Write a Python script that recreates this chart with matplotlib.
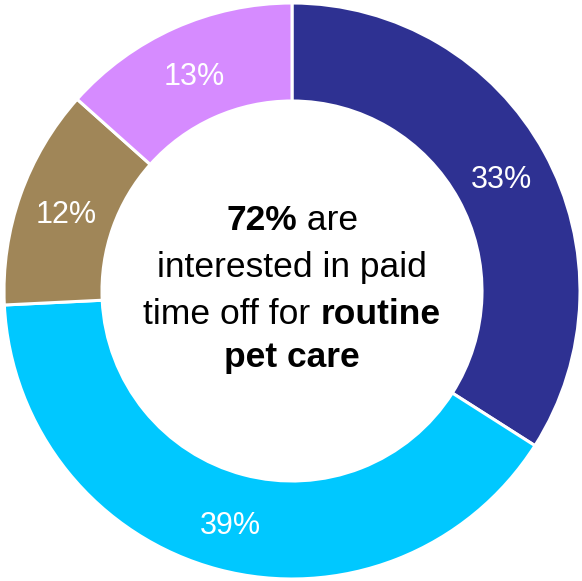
import numpy as np
import matplotlib.pyplot as plt

# Udziały w wykresie pierścieniowym (kolejność zgodnie z ruchem wskazówek zegara od góry)
categories = ["A", "B", "C", "D"]
values = [33, 39, 12, 13]
colors = ["#2E3192", "#00C8FF", "#A08658", "#D68BFF"]

# Tekst w środku: linie złożone z fragmentów (tekst, pogrubienie)
center_lines = [
    [("72%", True), (" are", False)],
    [("interested in paid", False)],
    [("time off for ", False), ("routine", True)],
    [("pet care", True)],
]

plt.rcParams["font.family"] = ["Liberation Sans", "DejaVu Sans"]

W, H = 582, 581
fig = plt.figure(figsize=(W / 100, H / 100), dpi=100)
ax = fig.add_axes([0, 0, 1, 1])

cx, cy = 292, H - 291
r_out = 288
ring = 98

wedges, _ = ax.pie(values, colors=colors, startangle=90, counterclock=False,
                   radius=r_out, center=(cx, cy), frame=True,
                   wedgeprops=dict(width=ring, edgecolor="white", linewidth=2.2))
ax.set_xlim(0, W)
ax.set_ylim(0, H)
ax.set_aspect("equal")
ax.axis("off")

# Etykiety procentowe na środku pierścienia
r_lab = r_out - ring / 2
for w, v in zip(wedges, values):
    ang = np.deg2rad((w.theta1 + w.theta2) / 2)
    ax.text(cx + r_lab * np.cos(ang), cy + r_lab * np.sin(ang) - 4, f"{v}%",
            ha="center", va="center", color="white", fontsize=22)

# Tekst środkowy z mieszanym pogrubieniem
renderer = fig.canvas.get_renderer()
line_y = [221, 268, 315, 357]
for parts, py in zip(center_lines, line_y):
    texts = []
    for s, bold in parts:
        t = ax.text(0, H - py, s, fontsize=25.5, fontweight="bold" if bold else "normal",
                    ha="left", va="center", color="black")
        texts.append(t)
    widths = [t.get_window_extent(renderer).width for t in texts]
    x = cx - sum(widths) / 2
    for t, wd in zip(texts, widths):
        t.set_x(x)
        x += wd

fig.savefig("out.png", dpi=100)
